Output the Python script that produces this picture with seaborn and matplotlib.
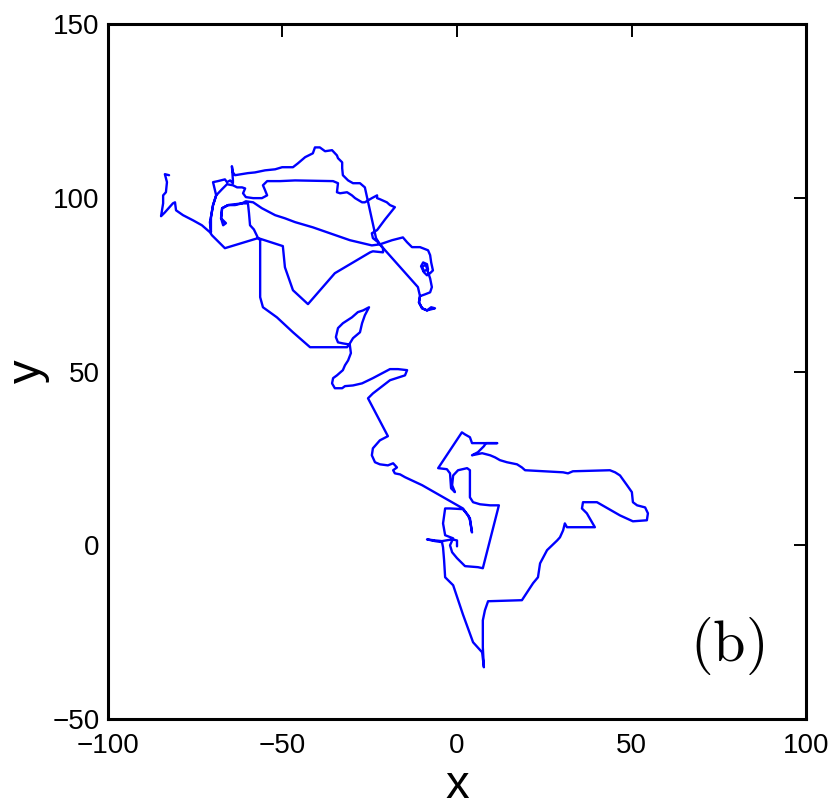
import numpy as np
import pandas as pd
import seaborn as sns
import matplotlib
matplotlib.use("Agg")
import matplotlib.pyplot as plt

# trajectory, split by region (x, y in plot units)
south = [
    (0.0, -0.3), (0.0, 1.4), (-1.4, 1.7), (-4.3, 1.2), (-6.3, 1.4), (-8.6, 1.7),
    (-6.3, 1.2), (-4.3, 0.9), (-4.0, -0.6), (-3.7, -4.3), (-3.4, -9.2), (-1.1, -11.5),
    (1.7, -19.9), (4.6, -27.9), (7.2, -30.8), (7.7, -35.1), (7.4, -29.4), (7.4, -21.6),
    (8.0, -18.7), (8.9, -16.1), (18.6, -15.8), (21.8, -10.9), (23.2, -9.2), (23.8, -5.2),
    (25.8, -1.4), (28.7, 1.4), (29.5, 2.3), (30.4, 4.3), (30.9, 6.3), (31.5, 5.2),
    (37.2, 5.2), (39.5, 5.2), (37.2, 9.2), (35.8, 10.6), (36.1, 12.4), (40.1, 12.4),
    (46.7, 8.6), (50.4, 6.9), (54.4, 7.2), (54.7, 9.2), (53.9, 10.9), (51.6, 11.5),
    (50.4, 12.4), (50.1, 15.3), (48.7, 17.3), (46.7, 20.1), (45.3, 21.0), (43.8, 21.6),
    (33.2, 21.3), (31.8, 20.7), (30.4, 21.0), (19.5, 21.6), (18.6, 22.4), (17.2, 23.3),
    (14.3, 23.9), (12.3, 24.5), (10.9, 25.3), (9.5, 25.9), (7.2, 26.5), (4.3, 25.9),
    (6.0, 26.8), (7.7, 28.5), (8.3, 29.4), (11.5, 29.4), (4.3, 29.4), (3.7, 31.1),
    (2.3, 31.9), (1.4, 32.5), (-5.4, 22.2), (-2.9, 21.9), (-2.0, 20.7), (-1.7, 16.4),
    (-0.6, 15.3), (-1.4, 17.3), (-1.1, 20.1), (0.3, 21.6), (2.9, 22.2), (3.7, 21.6),
    (3.7, 13.8), (4.6, 12.4), (6.6, 11.8), (9.5, 11.5), (12.0, 11.5), (7.4, -6.6),
    (6.0, -6.3), (2.3, -6.0), (0.0, -3.7), (-1.4, -2.0), (-2.0, 0.0), (-1.1, 2.0),
    (-3.4, 2.9), (-4.0, 6.3), (-3.4, 10.6), (-2.0, 10.6), (1.7, 10.4), (3.2, 8.6),
    (3.7, 7.2), (4.3, 3.7), (3.7, 7.8), (1.7, 10.6),
]

middle = [
    (-10.0, 17.3), (-14.9, 19.6), (-16.3, 20.4), (-17.8, 20.7), (-18.3, 21.6), (-17.2, 22.4),
    (-18.3, 23.6), (-19.8, 23.0), (-22.1, 23.3), (-23.5, 23.9), (-24.4, 25.9), (-24.1, 27.9),
    (-22.1, 30.2), (-19.8, 31.4), (-25.5, 42.3), (-24.1, 43.7), (-19.2, 47.5), (-14.9, 48.9),
    (-14.3, 50.4), (-16.9, 50.7), (-19.2, 50.7), (-24.1, 48.1), (-27.2, 46.6), (-29.8, 46.0),
    (-32.1, 45.8), (-32.9, 45.2), (-35.0, 45.2), (-35.8, 46.6), (-35.5, 48.1), (-34.4, 48.9),
    (-32.7, 50.4), (-32.1, 51.8), (-31.2, 53.2), (-30.4, 55.3), (-30.7, 57.6), (-30.9, 57.8),
    (-32.7, 58.1), (-34.1, 58.4), (-34.7, 59.9), (-34.1, 62.5), (-32.7, 63.9), (-30.1, 65.6),
    (-28.4, 67.1), (-26.9, 67.6), (-25.2, 68.5), (-26.4, 66.2), (-27.2, 63.9), (-27.8, 61.3),
    (-29.8, 59.6), (-30.7, 58.1), (-31.5, 57.0), (-42.1, 57.0), (-47.0, 61.3), (-51.6, 65.6),
    (-55.6, 68.5), (-56.4, 71.4), (-56.4, 87.8), (-57.0, 88.4),
]

north_cluster = [
    (-58.2, 90.9), (-59.3, 92.1), (-59.6, 95.6), (-59.9, 98.4), (-61.6, 98.4), (-63.6, 97.9),
    (-65.6, 97.9), (-67.3, 97.0), (-67.6, 94.1), (-67.0, 92.1), (-66.2, 92.7), (-67.6, 94.1),
    (-67.3, 97.0), (-65.6, 97.9), (-61.6, 98.4), (-60.5, 99.0), (-58.4, 98.7), (-55.9, 97.0),
    (-52.1, 95.0), (-49.3, 94.1), (-46.4, 93.0), (-41.3, 91.5), (-30.7, 87.8), (-24.4, 86.3),
    (-22.1, 86.6),
]

north_east = [
    (-18.6, 87.8), (-15.5, 88.6), (-14.3, 87.2), (-12.9, 85.8), (-10.6, 85.8), (-8.3, 84.9),
    (-7.7, 83.5), (-7.4, 81.4), (-6.9, 79.1), (-7.7, 78.3), (-8.6, 77.7), (-9.5, 78.6),
    (-10.3, 80.3), (-9.7, 81.4), (-8.6, 80.9), (-8.3, 79.4), (-9.5, 78.9), (-10.0, 80.3),
    (-8.9, 80.6), (-8.3, 78.6), (-7.7, 76.8), (-7.2, 74.3), (-7.7, 72.8), (-9.2, 72.2),
    (-10.6, 71.7), (-10.9, 69.9), (-10.0, 68.2), (-8.6, 67.6), (-7.4, 68.5), (-6.3, 68.2),
    (-8.6, 67.6), (-10.0, 68.2), (-10.9, 69.9), (-10.6, 71.7), (-11.2, 74.3), (-22.1, 86.6),
]

north_arch = [
    (-23.2, 88.4), (-26.4, 103.0), (-27.8, 104.2), (-29.8, 104.2), (-31.2, 105.0), (-32.7, 106.5),
    (-32.9, 108.5), (-32.9, 110.2), (-34.1, 111.4), (-34.4, 112.2), (-35.8, 113.7), (-37.8, 113.4),
    (-39.3, 114.5), (-40.7, 114.5), (-41.3, 112.8), (-43.5, 111.7), (-45.6, 109.9), (-47.0, 108.8),
    (-50.1, 108.8), (-52.1, 108.2), (-55.0, 107.9), (-57.9, 107.3), (-59.9, 107.1), (-63.6, 106.5),
    (-64.2, 107.3), (-64.5, 109.1), (-64.2, 105.0), (-64.2, 104.2), (-65.0, 105.0), (-65.9, 104.5),
    (-66.5, 105.3), (-68.5, 104.8), (-69.9, 104.5), (-69.0, 100.7), (-69.9, 97.9), (-70.5, 94.4),
    (-70.8, 93.0), (-70.5, 90.1), (-70.5, 94.4), (-69.9, 97.9), (-69.0, 100.7), (-67.3, 102.5),
    (-65.9, 103.9), (-64.2, 103.6), (-63.0, 103.0), (-61.6, 103.0), (-60.7, 102.7), (-61.3, 101.3),
    (-60.5, 100.2), (-58.4, 99.9), (-55.9, 99.9), (-54.4, 100.7), (-55.0, 102.2), (-55.6, 103.6),
    (-54.4, 104.8), (-50.7, 104.8), (-46.4, 105.0), (-35.5, 104.8), (-34.1, 104.2), (-34.4, 101.6),
    (-33.5, 101.3), (-31.5, 101.6), (-30.1, 100.7), (-29.2, 99.9), (-27.2, 98.7), (-26.4, 98.7),
    (-24.4, 99.9), (-22.9, 100.7), (-22.9, 99.9), (-22.1, 99.6), (-20.1, 98.7), (-19.2, 97.9),
    (-17.8, 97.3), (-20.6, 93.8), (-22.9, 90.7), (-24.4, 89.8), (-24.1, 88.4), (-22.6, 87.2),
]

north_west = [
    (-21.2, 85.5), (-21.2, 84.3), (-24.1, 84.6), (-24.9, 84.3), (-35.0, 78.3), (-42.7, 69.4),
    (-47.0, 73.4), (-49.3, 80.0), (-49.9, 86.1), (-57.0, 88.4), (-66.5, 85.5), (-70.2, 89.2),
    (-70.8, 90.1), (-73.1, 92.1), (-75.6, 93.5), (-78.5, 95.0), (-80.5, 96.4), (-80.8, 98.7),
    (-81.4, 98.4), (-83.7, 95.8), (-84.8, 94.7), (-84.2, 98.4), (-84.2, 100.7), (-83.4, 101.6),
    (-83.1, 104.5), (-83.7, 106.8), (-82.5, 106.5),
]

x_ticks = [-100, -50, 0, 50, 100]
y_ticks = [-50, 0, 50, 100, 150]

path = south + middle + north_cluster + north_east + north_arch + north_west
track = pd.DataFrame(path, columns=["x", "y"])

sns.set_style("white")
plt.rcParams["font.family"] = ["Liberation Sans", "DejaVu Sans"]
plt.rcParams["mathtext.fontset"] = "cm"
plt.rcParams["axes.unicode_minus"] = True
plt.rcParams["text.color"] = "black"
plt.rcParams["axes.labelcolor"] = "black"

fig = plt.figure(figsize=(8.39, 8.07), dpi=100)
ax = fig.add_axes([0.1287, 0.109, 0.832, 0.8612])

sns.lineplot(data=track, x="x", y="y", sort=False, estimator=None,
             color="#0000ff", lw=1.7, ax=ax)

ax.set_xlim(-100, 100)
ax.set_ylim(-50, 150)
ax.set_xticks(x_ticks)
ax.set_yticks(y_ticks)
ax.tick_params(direction="in", top=True, right=True, length=9, width=1.4,
               labelsize=20, colors="black")
ax.tick_params(axis="x", pad=10)
ax.tick_params(axis="y", pad=6)
for sp in ax.spines.values():
    sp.set_visible(True)
    sp.set_linewidth(2.2)
    sp.set_color("black")

ax.set_xlabel("x", fontsize=34, labelpad=4, color="black")
ax.set_ylabel("y", fontsize=34, labelpad=2, color="black")

ax.text(77.4, -29.0, r"$\mathrm{(b)}$", ha="center", va="center",
        fontsize=42, color="black")

fig.savefig("out.png", dpi=100)
